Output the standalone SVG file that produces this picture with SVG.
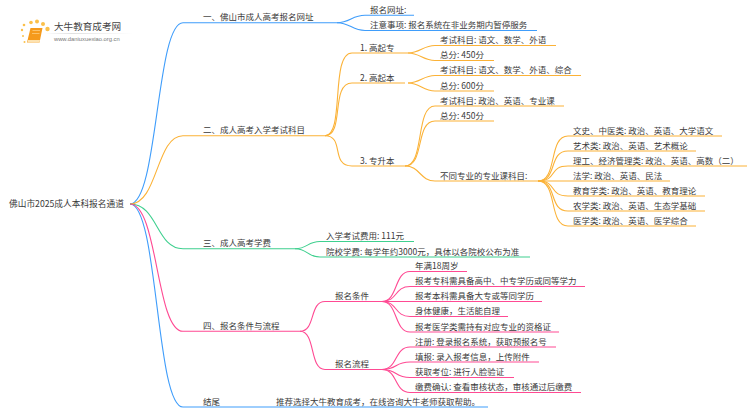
<svg xmlns="http://www.w3.org/2000/svg" width="750" height="410" viewBox="0 0 750 410">
<style>
text{font-family:"Noto Sans CJK SC","Noto Sans",sans-serif;font-size:8.5px;fill:#3a3a3a}
#connectors path{fill:none;stroke-width:1.1}
.b{stroke:#3f9dfb}.o{stroke:#fbb237}.g{stroke:#3fd08f}.p{stroke:#ff4a93}
</style>
<defs><linearGradient id="fade"><stop offset="0" stop-color="#ccc" stop-opacity="0"/><stop offset=".3" stop-color="#ccc"/><stop offset="1" stop-color="#ccc" stop-opacity="0"/></linearGradient></defs>
<rect width="750" height="410" fill="#fff"/>
<g id="connectors">
<g>
<path class="b" d="M130 204C158 204 156 22.700 183 22.700H337"/>
<path class="b" d="M130 204C158 204 156 407 183 407H488"/>
<path class="b" d="M337 22.700C350 22.700 352 15.300 365 15.300H414"/>
<path class="b" d="M337 22.700C350 22.700 352 30.500 365 30.500H537"/>
</g>
<g>
<path class="o" d="M130 204C158 204 156 135.700 183 135.700H325"/>
<path class="o" d="M325 135.700C345 135.700 330 53 352 53H408"/>
<path class="o" d="M325 135.700C345 135.700 330 83 352 83H405"/>
<path class="o" d="M325 135.700C345 135.700 330 166 352 166H405"/>
<path class="o" d="M408 53C420 53 423 45.500 435 45.500H556"/>
<path class="o" d="M408 53C420 53 423 60.500 435 60.500H494"/>
<path class="o" d="M408 83C420 83 423 75.500 435 75.500H581"/>
<path class="o" d="M408 83C420 83 423 91 435 91H494"/>
<path class="o" d="M405 166C425 166 415 106 435 106H564"/>
<path class="o" d="M405 166C425 166 415 121 435 121H494"/>
<path class="o" d="M405 166C420 166 420 181 435 181H538"/>
<path class="o" d="M538 181C558 181 548 136 568 136H722"/>
<path class="o" d="M538 181C558 181 548 151 568 151H696"/>
<path class="o" d="M538 181C558 181 548 166 568 166H747"/>
<path class="o" d="M538 181H670"/>
<path class="o" d="M538 181C558 181 548 196 568 196H705"/>
<path class="o" d="M538 181C558 181 548 211 568 211H705"/>
<path class="o" d="M538 181C558 181 548 226 568 226H696"/>
</g>
<g>
<path class="g" d="M130 204C158 204 156 248.700 183 248.700H295"/>
<path class="g" d="M295 248.700C308 248.700 307 241.500 320 241.500H414"/>
<path class="g" d="M295 248.700C308 248.700 307 257 320 257H530"/>
</g>
<g>
<path class="p" d="M130 204C158 204 156 331.300 183 331.300H300"/>
<path class="p" d="M300 331.300C316 331.300 309 301.500 325 301.500H382"/>
<path class="p" d="M300 331.300C316 331.300 309 369.500 325 369.500H382"/>
<path class="p" d="M382 301.500C398 301.500 394 271.500 410 271.500H467"/>
<path class="p" d="M382 301.500C398 301.500 394 286.500 410 286.500H585"/>
<path class="p" d="M382 301.500H542"/>
<path class="p" d="M382 301.500C398 301.500 394 316.500 410 316.500H508"/>
<path class="p" d="M382 301.500C398 301.500 394 332 410 332H559"/>
<path class="p" d="M382 369.500C398 369.500 394 347 410 347H556"/>
<path class="p" d="M382 369.500C398 369.500 394 362 410 362H539"/>
<path class="p" d="M382 369.500C398 369.500 394 377.500 410 377.500H514"/>
<path class="p" d="M382 369.500C398 369.500 394 392.500 410 392.500H581"/>
</g>
</g>
<g id="logo">
<g fill="#fbc04a"><circle cx="22" cy="30" r="1.200"/><circle cx="24" cy="25" r="1.300"/><circle cx="23" cy="36" r="1"/><circle cx="24.500" cy="42" r="1"/><circle cx="31" cy="22.500" r="1.800"/><circle cx="37" cy="21.500" r="2"/><circle cx="43" cy="24" r="2"/><circle cx="47.500" cy="29" r="2.200"/></g>
<path d="M30.500 28H42.500L39.500 42.500H27Z" fill="#f59a1c"/>
<path d="M28 40H40L39.500 42.500H27.500Z" fill="#fde2b0"/>
<path d="M32.500 30.500H40M32 33.500H39.500" fill="none" stroke="#ffd48a" stroke-width=".7"/>
<text x="54" y="30" style="font-size:9.600px;fill:#444">大牛教育成考网</text>
<rect x="45" y="33" width="88" height=".6" fill="url(#fade)"/>
<text x="54" y="41" style="font-size:5.800px;fill:#777;font-family:'Liberation Sans',sans-serif">www.daniuxuexiao.org.cn</text>
</g>
<g id="root"><text x="9" y="207" style="font-size:8.700px">佛山市2025成人本科报名通道</text></g>
<g id="n1"><text x="203" y="20">一、佛山市成人高考报名网址</text></g>
<g id="n1-1"><text x="370" y="13">报名网址:</text></g>
<g id="n1-2"><text x="370" y="28">注意事项: 报名系统在非业务期内暂停服务</text></g>
<g id="n2"><text x="203" y="133">二、成人高考入学考试科目</text></g>
<g id="n2-1"><text x="360" y="50.500">1. 高起专</text></g>
<g id="n2-1-1"><text x="440" y="43">考试科目: 语文、数学、外语</text></g>
<g id="n2-1-2"><text x="440" y="58">总分: 450分</text></g>
<g id="n2-2"><text x="360" y="80.500">2. 高起本</text></g>
<g id="n2-2-1"><text x="440" y="73">考试科目: 语文、数学、外语、综合</text></g>
<g id="n2-2-2"><text x="440" y="88.500">总分: 600分</text></g>
<g id="n2-3"><text x="360" y="163.500">3. 专升本</text></g>
<g id="n2-3-1"><text x="440" y="103.500">考试科目: 政治、英语、专业课</text></g>
<g id="n2-3-2"><text x="440" y="118.500">总分: 450分</text></g>
<g id="n2-3-3"><text x="440" y="178.500">不同专业的专业课科目:</text></g>
<g id="m1"><text x="573" y="133.500">文史、中医类: 政治、英语、大学语文</text></g>
<g id="m2"><text x="573" y="148.500">艺术类: 政治、英语、艺术概论</text></g>
<g id="m3"><text x="573" y="163.500">理工、经济管理类: 政治、英语、高数（二）</text></g>
<g id="m4"><text x="573" y="178.500">法学: 政治、英语、民法</text></g>
<g id="m5"><text x="573" y="193.500">教育学类: 政治、英语、教育理论</text></g>
<g id="m6"><text x="573" y="208.500">农学类: 政治、英语、生态学基础</text></g>
<g id="m7"><text x="573" y="223.500">医学类: 政治、英语、医学综合</text></g>
<g id="n3"><text x="203" y="246">三、成人高考学费</text></g>
<g id="n3-1"><text x="326" y="239">入学考试费用: 111元</text></g>
<g id="n3-2"><text x="326" y="254.500">院校学费: 每学年约3000元，具体以各院校公布为准</text></g>
<g id="n4"><text x="203" y="329">四、报名条件与流程</text></g>
<g id="n4-1"><text x="335" y="299">报名条件</text></g>
<g id="n4-1-1"><text x="415" y="269">年满18周岁</text></g>
<g id="n4-1-2"><text x="415" y="284">报考专科需具备高中、中专学历或同等学力</text></g>
<g id="n4-1-3"><text x="415" y="299">报考本科需具备大专或等同学历</text></g>
<g id="n4-1-4"><text x="415" y="314">身体健康，生活能自理</text></g>
<g id="n4-1-5"><text x="415" y="329.500">报考医学类需持有对应专业的资格证</text></g>
<g id="n4-2"><text x="335" y="367">报名流程</text></g>
<g id="n4-2-1"><text x="415" y="344.500">注册: 登录报名系统，获取预报名号</text></g>
<g id="n4-2-2"><text x="415" y="359.500">填报: 录入报考信息，上传附件</text></g>
<g id="n4-2-3"><text x="415" y="375">获取考位: 进行人脸验证</text></g>
<g id="n4-2-4"><text x="415" y="390">缴费确认: 查看审核状态，审核通过后缴费</text></g>
<g id="n5"><text x="203" y="404.500">结尾</text></g>
<g id="n5-1"><text x="276" y="404.500">推荐选择大牛教育成考，在线咨询大牛老师获取帮助。</text></g>
</svg>
